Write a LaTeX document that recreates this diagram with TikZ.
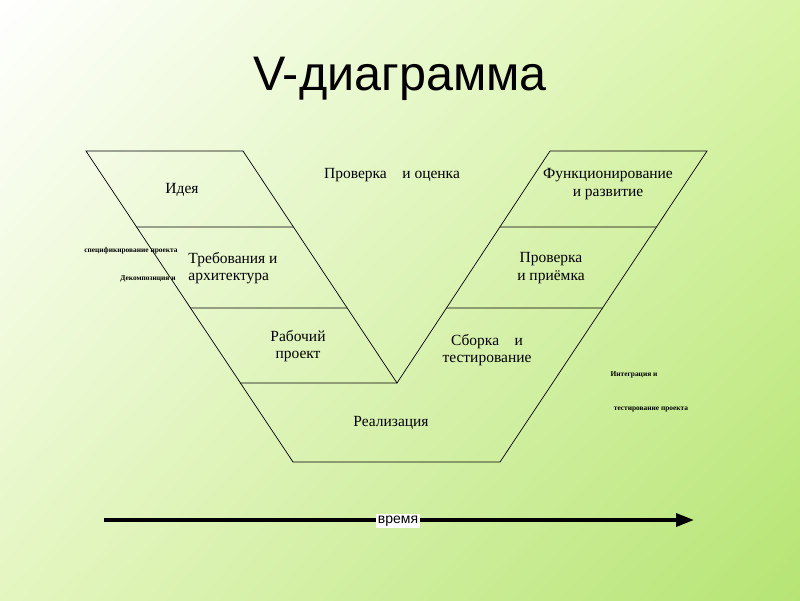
\documentclass[tikz,border=0pt]{standalone}
\usepackage{fontspec}
\setmainfont{Liberation Serif}
\setsansfont{Liberation Sans}
\usetikzlibrary{arrows.meta,positioning,calc,shadings}
\definecolor{BgWhite}{HTML}{FFFFFF}
\definecolor{BgTopRight}{HTML}{D8F4A6}
\definecolor{BgBotLeft}{HTML}{E4F6C0}
\definecolor{BgBotRight}{HTML}{B6E474}

\begin{document}
\begin{tikzpicture}[
        x=1pt,y=-1pt,
        %Environment Styles.
        vLine/.style={black, line width=0.7pt},
        stage/.style={font=\fontsize{15.5}{17.5}\selectfont, align=center, inner sep=1pt},
        tiny/.style={font=\fontsize{7.4}{8}\selectfont\bfseries, inner sep=0pt},
        timeArrow/.style={-{Triangle[length=18pt,width=13pt]}, line width=3.5pt, black},
    ]
    \useasboundingbox (0,0) rectangle (800,600);
    %Background gradient.
    \shade[upper left=BgWhite, upper right=BgTopRight,
           lower left=BgBotLeft, lower right=BgBotRight] (0,0) rectangle (800,600);

    %Title.
    \node[font=\sffamily\fontsize{48.5}{52}\selectfont](TITLE) at (400,79){V-диаграмма};

    %Corners of the V.
    \coordinate (LTL) at (86,151);
    \coordinate (LTR) at (243,151);
    \coordinate (RTL) at (550,151);
    \coordinate (RTR) at (707,151);
    \coordinate (VTIP) at (397,383);
    \coordinate (BL) at (293,462);
    \coordinate (BR) at (500,462);

    %Outline.
    \draw[vLine] (LTR) -- (LTL) -- (BL) -- (BR) -- (RTR) -- (RTL) -- (VTIP) -- cycle;
    %Separators, left branch.
    \draw[vLine] ($(LTL)!76/311!(BL)$) -- ($(LTR)!76/232!(VTIP)$);
    \draw[vLine] ($(LTL)!157/311!(BL)$) -- ($(LTR)!157/232!(VTIP)$);
    \draw[vLine] ($(LTL)!232/311!(BL)$) -- (VTIP);
    %Separators, right branch.
    \draw[vLine] ($(RTL)!76/232!(VTIP)$) -- ($(RTR)!76/311!(BR)$);
    \draw[vLine] ($(RTL)!157/232!(VTIP)$) -- ($(RTR)!157/311!(BR)$);

    %Stage labels.
    \node[stage](IDEA) at (182,190){Идея};
    \node[stage, align=left](REQ) at (233,268){Требования и\\ архитектура};
    \node[stage](WORK) at (298,346){Рабочий\\проект};
    \node[stage](IMPL) at (391,423){Реализация};
    \node[stage](CHECK) at (392,175){Проверка\quad и оценка};
    \node[stage](FUNC) at (608,184){Функционирование\\и развитие};
    \node[stage](ACCEPT) at (551,268){Проверка\\и приёмка};
    \node[stage](ASSEMBLY) at (487,350){Сборка\quad и\\тестирование};

    %Small notes.
    \node[tiny](SPEC) at (131,251){спецификирование проекта};
    \node[tiny](DECOMP) at (148,279){Декомпозиция и};
    \node[tiny](INTEGR) at (634,375){Интеграция и};
    \node[tiny](TESTPRJ) at (651,410){тестирование проекта};

    %Time axis.
    \coordinate (TSTART) at (104,520);
    \coordinate (TEND) at (694,520);
    \draw[timeArrow] (TSTART) -- (TEND);
    \node[fill=white, inner sep=1.5pt, font=\sffamily\fontsize{14}{16}\selectfont](TIME) at (398,521){время};
\end{tikzpicture}
\end{document}
